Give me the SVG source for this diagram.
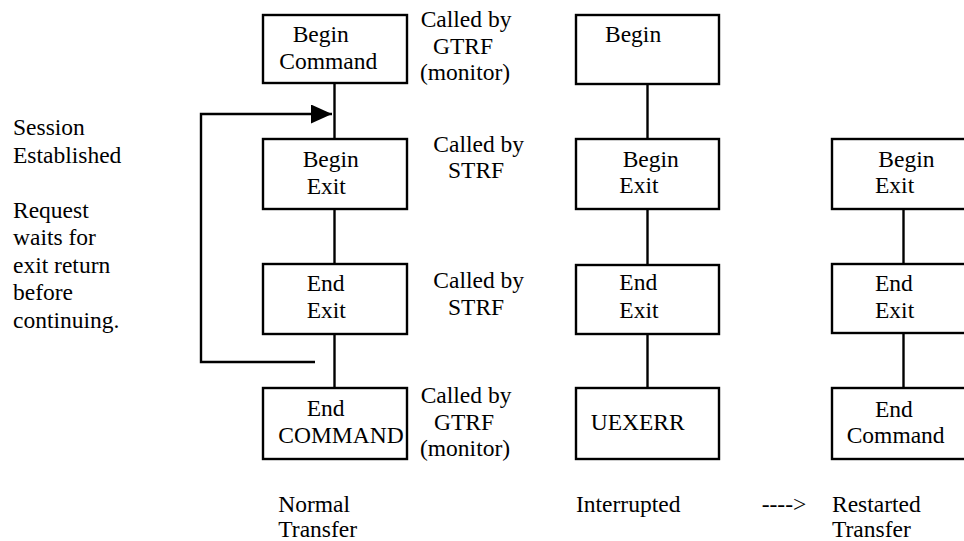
<svg xmlns="http://www.w3.org/2000/svg" width="964" height="541" viewBox="0 0 964 541">
<style>
.box{fill:#fff;stroke:#000;stroke-width:2.4}
.ln{fill:none;stroke:#000;stroke-width:2.4}
text{font-family:"Liberation Serif",serif;font-size:23.5px;fill:#000}
</style>
<defs>
<marker id="ah" markerUnits="userSpaceOnUse" markerWidth="22" markerHeight="20" refX="21" refY="9.5" orient="auto">
<polygon points="0,0 21,9.5 0,19" fill="#000"/>
</marker>
</defs>
<rect width="964" height="541" fill="#fff"/>
<g id="connectors">
<line class="ln" x1="334.5" y1="83" x2="334.5" y2="139"/>
<line class="ln" x1="334.5" y1="209" x2="334.5" y2="264"/>
<line class="ln" x1="334.5" y1="334" x2="334.5" y2="388"/>
<line class="ln" x1="647.5" y1="84" x2="647.5" y2="139"/>
<line class="ln" x1="647.5" y1="209" x2="647.5" y2="265"/>
<line class="ln" x1="647.5" y1="334" x2="647.5" y2="388"/>
<line class="ln" x1="903.5" y1="209" x2="903.5" y2="264"/>
<line class="ln" x1="903.5" y1="333" x2="903.5" y2="388"/>
<polyline class="ln" points="315,362 201,362 201,114 332,114" marker-end="url(#ah)"/>
</g>
<g id="n1-begin-command"><rect class="box" x="263" y="15" width="144" height="68"/><text x="292.7" y="41.7">Begin</text><text x="279.3" y="69">Command</text></g>
<g id="n1-begin-exit"><rect class="box" x="263" y="139" width="144" height="70"/><text x="302.7" y="166.7">Begin</text><text x="306.7" y="194">Exit</text></g>
<g id="n1-end-exit"><rect class="box" x="263" y="264" width="144" height="70"/><text x="306.7" y="290.7">End</text><text x="306.7" y="318.3">Exit</text></g>
<g id="n1-end-command"><rect class="box" x="263" y="388" width="144" height="71"/><text x="306.7" y="416">End</text><text x="278.3" y="443.3">COMMAND</text></g>
<g id="n2-begin"><rect class="box" x="576" y="15" width="143" height="69"/><text x="605" y="41.7">Begin</text></g>
<g id="n2-begin-exit"><rect class="box" x="576" y="139" width="143" height="70"/><text x="622.7" y="166.7">Begin</text><text x="619.3" y="193.3">Exit</text></g>
<g id="n2-end-exit"><rect class="box" x="576" y="265" width="143" height="69"/><text x="619.3" y="290">End</text><text x="619.3" y="318.3">Exit</text></g>
<g id="n2-uexerr"><rect class="box" x="576" y="388" width="143" height="71"/><text x="590.7" y="430">UEXERR</text></g>
<g id="n3-begin-exit"><rect class="box" x="832" y="139" width="144" height="70"/><text x="878.3" y="166.7">Begin</text><text x="875" y="193.3">Exit</text></g>
<g id="n3-end-exit"><rect class="box" x="832" y="264" width="144" height="69"/><text x="875" y="290.7">End</text><text x="875" y="318.3">Exit</text></g>
<g id="n3-end-command"><rect class="box" x="832" y="388" width="144" height="71"/><text x="875" y="416.7">End</text><text x="846.7" y="442.7">Command</text></g>
<g id="labels">
<text x="420.7" y="26.7">Called by</text><text x="433" y="53.5">GTRF</text><text x="420" y="79.5">(monitor)</text>
<text x="433.3" y="151.7">Called by</text><text x="448" y="178.3">STRF</text>
<text x="433.3" y="288.3">Called by</text><text x="448" y="315">STRF</text>
<text x="420.7" y="403.3">Called by</text><text x="434" y="430">GTRF</text><text x="420" y="455.5">(monitor)</text>
<text x="13" y="135">Session</text><text x="13" y="162.5">Established</text>
<text x="13" y="217.5">Request</text><text x="13" y="245">waits for</text><text x="13" y="272.5">exit return</text><text x="13" y="300">before</text><text x="13" y="327.5">continuing.</text>
<text x="278.3" y="511.7">Normal</text><text x="278.3" y="536.5">Transfer</text>
<text x="576" y="511.7">Interrupted</text>
<text x="761.7" y="511.7">----&gt;</text>
<text x="832" y="511.7">Restarted</text><text x="832" y="536.5">Transfer</text>
</g>
</svg>
